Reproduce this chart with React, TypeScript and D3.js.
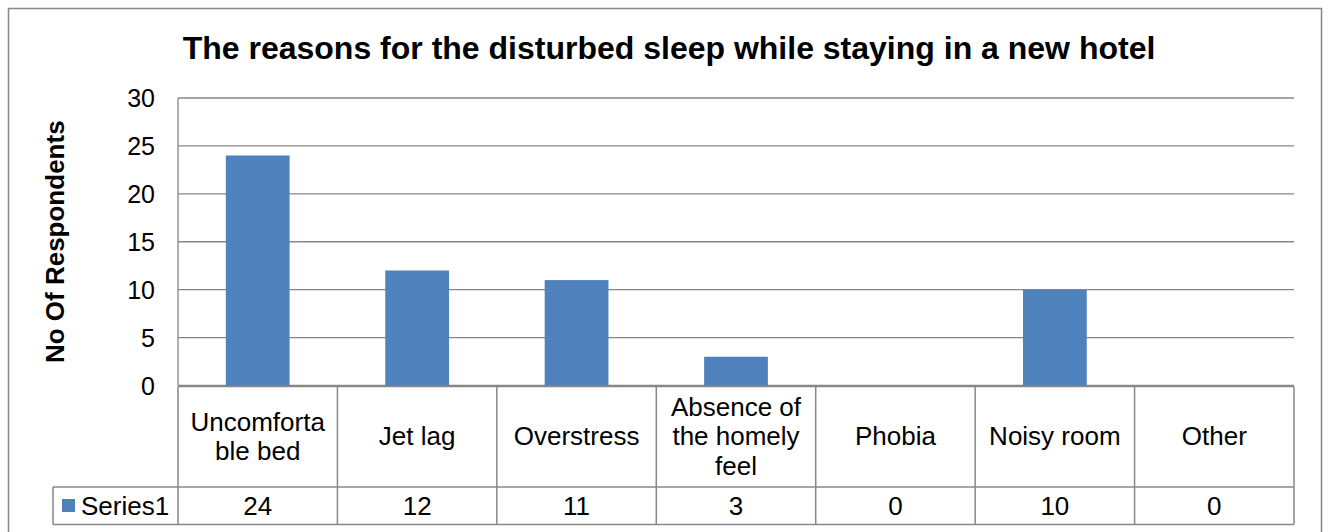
import React from "react";
import * as d3 from "d3";

const categories = [
  ["Uncomforta", "ble bed"],
  ["Jet lag"],
  ["Overstress"],
  ["Absence of", "the homely", "feel"],
  ["Phobia"],
  ["Noisy room"],
  ["Other"],
];
const values = [24, 12, 11, 3, 0, 10, 0];
const yTicks = [0, 5, 10, 15, 20, 25, 30];
const seriesName = "Series1";
const title = "The reasons for the disturbed sleep while staying in a new hotel";
const yLabel = "No Of Respondents";

const W = 1329;
const H = 532;
const FONT = "Arial, 'Liberation Sans', sans-serif";
const GRID = "#878787";
const BAR = "#4F81BD";

export default function App() {
  const left = 178;
  const right = 1294;
  const top = 98;
  const bottom = 385.5;
  const tableMid = 487;
  const tableBottom = 524.5;
  const legendLeft = 53;

  const x = d3
    .scaleBand<number>()
    .domain(d3.range(values.length))
    .range([left, right])
    .paddingInner(0)
    .paddingOuter(0);
  const y = d3.scaleLinear().domain([0, 30]).range([bottom, top]);
  const bw = x.bandwidth();
  const barW = bw * 0.4;

  return (
    <svg
      width={W}
      height={H}
      style={{ position: "absolute", left: 0, top: 0, display: "block" }}
      fontFamily={FONT}
    >
      <rect x={0} y={0} width={W} height={H} fill="#fff" />
      <rect x={8.5} y={8.5} width={1313} height={H} fill="none" stroke={GRID} strokeWidth={1.5} />
      <text x={669} y={59} textAnchor="middle" fontSize={32} fontWeight="bold" fill="#000">
        {title}
      </text>
      {/* gridlines */}
      {yTicks.map((t) => (
        <line key={"g" + t} x1={left} x2={right} y1={y(t)} y2={y(t)} stroke={GRID} strokeWidth={1.3} />
      ))}
      <line x1={left} x2={left} y1={top} y2={bottom} stroke={GRID} strokeWidth={1.3} />
      {yTicks.map((t) => (
        <text key={"t" + t} x={155} y={y(t) + 9} textAnchor="end" fontSize={25} fill="#000">
          {t}
        </text>
      ))}
      <text
        transform={`translate(64,${(top + bottom) / 2}) rotate(-90)`}
        textAnchor="middle"
        fontSize={26}
        fontWeight="bold"
        fill="#000"
      >
        {yLabel}
      </text>
      {/* bars */}
      {values.map((v, i) => (
        <rect
          key={"b" + i}
          x={(x(i) as number) + (bw - barW) / 2}
          y={y(v)}
          width={barW}
          height={bottom - y(v)}
          fill={BAR}
        />
      ))}
      {/* data table */}
      <line x1={left} x2={right} y1={bottom + 1} y2={bottom + 1} stroke={GRID} strokeWidth={1.5} />
      <line x1={legendLeft} x2={right} y1={tableMid} y2={tableMid} stroke={GRID} strokeWidth={1.5} />
      <line x1={legendLeft} x2={right} y1={tableBottom} y2={tableBottom} stroke={GRID} strokeWidth={1.5} />
      <line x1={legendLeft} x2={legendLeft} y1={tableMid} y2={tableBottom} stroke={GRID} strokeWidth={1.5} />
      {d3.range(values.length + 1).map((i) => {
        const xx = i < values.length ? (x(i) as number) : right;
        return (
          <line key={"v" + i} x1={xx} x2={xx} y1={bottom + 1} y2={tableBottom} stroke={GRID} strokeWidth={1.5} />
        );
      })}
      {categories.map((lines, i) => {
        const cx = (x(i) as number) + bw / 2;
        const cy = (bottom + tableMid) / 2;
        const lh = 29.5;
        const start = cy - ((lines.length - 1) * lh) / 2 + 9;
        return (
          <text key={"c" + i} textAnchor="middle" fontSize={26} fill="#000">
            {lines.map((l, j) => (
              <tspan key={j} x={cx} y={start + j * lh}>
                {l}
              </tspan>
            ))}
          </text>
        );
      })}
      {values.map((v, i) => (
        <text
          key={"d" + i}
          x={(x(i) as number) + bw / 2}
          y={(tableMid + tableBottom) / 2 + 9}
          textAnchor="middle"
          fontSize={26}
          fill="#000"
        >
          {v}
        </text>
      ))}
      <rect x={62} y={499} width={13} height={13} fill={BAR} />
      <text x={81} y={(tableMid + tableBottom) / 2 + 9} fontSize={26} fill="#000">
        {seriesName}
      </text>
    </svg>
  );
}
